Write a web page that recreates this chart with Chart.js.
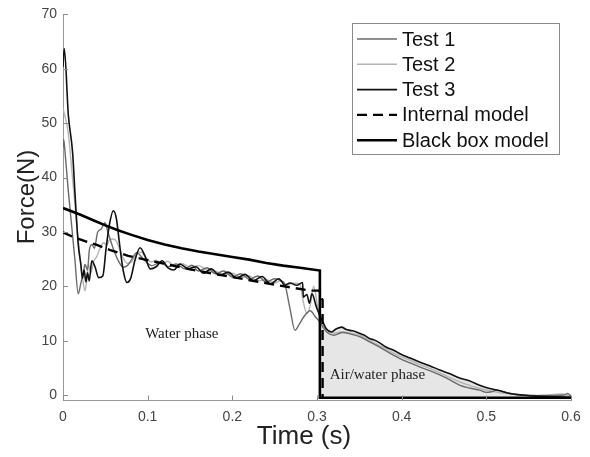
<!DOCTYPE html>
<html>
<head>
<meta charset="utf-8">
<script src="https://cdn.jsdelivr.net/npm/chart.js@4/dist/chart.umd.min.js"></script>
<style>
html, body { margin: 0; padding: 0; background: #fff; }
</style>
</head>
<body>
<canvas id="myChart" width="590" height="457"></canvas>
<script>
// axis ticks
const xTicks = [0, 0.1, 0.2, 0.3, 0.4, 0.5, 0.6];
const yTicks = [0, 10, 20, 30, 40, 50, 60, 70];

// Test 1 (dark grey)
const test1Time = [0, 0.0008, 0.0025, 0.006, 0.01, 0.014, 0.018, 0.021, 0.024, 0.026, 0.029, 0.031, 0.034, 0.037, 0.041, 0.045, 0.0496, 0.053, 0.059, 0.065, 0.071, 0.076, 0.081, 0.087, 0.095, 0.105, 0.115, 0.124, 0.134, 0.144, 0.152, 0.16, 0.17, 0.18, 0.19, 0.2, 0.21, 0.22, 0.23, 0.24, 0.25, 0.258, 0.262, 0.268, 0.274, 0.279, 0.284, 0.292, 0.2985, 0.303, 0.307, 0.312, 0.32, 0.33, 0.34, 0.351, 0.362, 0.374, 0.386, 0.398, 0.41, 0.421, 0.433, 0.445, 0.457, 0.469, 0.48, 0.492, 0.5, 0.506, 0.512, 0.525, 0.54, 0.57, 0.592, 0.596, 0.6];
const test1Force = [45.5, 47, 44.5, 38, 31.5, 25, 18.6, 20.5, 22.5, 24, 23, 26.5, 27.7, 27, 30, 30.5, 31.7, 30, 27.1, 24.8, 23.5, 23.8, 24.9, 26.2, 25, 23.8, 24.4, 23.6, 24.1, 23.2, 23.9, 22.8, 23.4, 22.3, 22.8, 21.7, 22.3, 21.3, 21.9, 20.8, 21.4, 21.0, 20.4, 16.0, 11.9, 13.0, 14.3, 15.5, 14.3, 13.5, 12.5, 11.5, 11.0, 11.5, 11.2, 10.7, 9.8, 8.8, 7.7, 6.7, 5.9, 5.2, 4.5, 3.7, 2.8, 1.8, 1.3, 0.9, 0.5, 0.6, 0.9, 0.4, 0.0, -0.1, 0.0, 0.3, -0.2];

// Test 2 (light grey)
const test2Time = [0, 0.002, 0.0063, 0.01, 0.015, 0.02, 0.024, 0.026, 0.028, 0.03, 0.033, 0.036, 0.04, 0.044, 0.048, 0.052, 0.055, 0.059, 0.063, 0.067, 0.071, 0.076, 0.081, 0.086, 0.092, 0.098, 0.104, 0.11, 0.117, 0.124, 0.132, 0.14, 0.15, 0.16, 0.17, 0.18, 0.19, 0.2, 0.21, 0.22, 0.23, 0.24, 0.25, 0.256, 0.265, 0.272, 0.28, 0.284, 0.288, 0.292, 0.296, 0.3, 0.304, 0.308, 0.313, 0.32, 0.33, 0.34, 0.351, 0.362, 0.374, 0.386, 0.398, 0.41, 0.42, 0.433, 0.445, 0.457, 0.469, 0.48, 0.49, 0.51, 0.53, 0.56, 0.59, 0.6];
const test2Force = [52.7, 51.5, 48.1, 42, 33.5, 25.5, 20.5, 19.2, 21, 24, 22.5, 24.5, 25.5, 27.1, 28, 27.6, 28.6, 28.7, 28.3, 26.8, 25.2, 24.2, 24.5, 25.8, 26.3, 25.3, 24.5, 24.8, 24.1, 24.6, 23.6, 24.2, 23.6, 23.8, 23, 22.8, 22.2, 22.4, 21.6, 21.9, 21, 21.2, 20.6, 21, 20.3, 20.6, 20.3, 17, 15, 16.5, 20, 17, 13.5, 12.6, 11.8, 11.4, 11.6, 11.4, 11, 10, 9.1, 8.1, 7.1, 6.4, 5.7, 4.9, 4.1, 3.2, 2.4, 1.8, 1.3, 0.6, 0.2, -0.1, 0.2, -0.3];

// Test 3 (black)
const test3Time = [0, 0.0015, 0.0063, 0.0114, 0.014, 0.018, 0.021, 0.023, 0.025, 0.027, 0.029, 0.031, 0.034, 0.038, 0.042, 0.047, 0.051, 0.055, 0.0594, 0.063, 0.067, 0.071, 0.0755, 0.08, 0.085, 0.091, 0.097, 0.103, 0.11, 0.117, 0.124, 0.131, 0.138, 0.148, 0.157, 0.166, 0.175, 0.185, 0.195, 0.205, 0.215, 0.225, 0.235, 0.245, 0.255, 0.262, 0.268, 0.276, 0.283, 0.2838, 0.288, 0.291, 0.294, 0.2995, 0.3034, 0.307, 0.311, 0.317, 0.323, 0.329, 0.334, 0.339, 0.345, 0.351, 0.356, 0.362, 0.368, 0.374, 0.382, 0.39, 0.398, 0.41, 0.421, 0.433, 0.445, 0.457, 0.469, 0.4805, 0.492, 0.504, 0.516, 0.528, 0.543, 0.559, 0.58, 0.599];
const test3Force = [60.3, 63.7, 51.5, 44.5, 37.5, 27.7, 24.1, 21.5, 23.0, 20.8, 22.5, 21.0, 24.7, 23.5, 21.6, 21.9, 27.1, 31.5, 33.9, 32.5, 27.5, 23.0, 20.7, 21.5, 24.8, 27.1, 25.5, 23.2, 23.6, 24.7, 23.4, 23.0, 24.1, 23.2, 23.6, 22.4, 23.2, 22.0, 22.6, 21.5, 22.2, 21.0, 21.8, 20.4, 21.4, 20.2, 20.6, 20.2, 20.7, 18.0, 18.5, 16.9, 18.6, 16.1, 14.6, 13.4, 12.2, 11.6, 12.2, 12.5, 12.1, 11.9, 11.7, 11.3, 11.0, 10.4, 10.1, 9.6, 8.8, 8.3, 7.6, 6.8, 6.1, 5.4, 4.6, 3.9, 3.1, 2.6, 1.8, 1.2, 0.8, 0.3, 0.0, -0.2, -0.3, -0.4];

// Internal model (dashed)
const internalTime = [0, 0.013, 0.026, 0.04, 0.055, 0.077, 0.103, 0.13, 0.15, 0.2, 0.25, 0.292, 0.303, 0.3055, 0.3066, 0.3066];
const internalForce = [29.9, 29.0, 28.3, 27.6, 26.7, 25.6, 24.7, 23.8, 23.1, 21.7, 20.3, 19.2, 19.2, 17.7, 17.5, -0.5];

// Black box model
const blackBoxTime = [0, 0.01, 0.02, 0.035, 0.05, 0.065, 0.08, 0.1, 0.12, 0.14, 0.16, 0.18, 0.2, 0.22, 0.24, 0.26, 0.28, 0.3034, 0.3034, 0.6];
const blackBoxForce = [34.4, 33.8, 33.2, 32.2, 31.2, 30.3, 29.5, 28.5, 27.7, 27.0, 26.4, 25.9, 25.4, 24.9, 24.3, 23.8, 23.4, 22.9, -0.5, -0.5];

// air/water phase shading starts where the black box model drops
const airWaterStart = 0.3034;
const shadeFloor = -0.5;

function pts(ts, fs) {
	return ts.map((t, i) => ({ x: t, y: fs[i] }));
}

const shadePts = pts(test3Time, test3Force).filter(p => p.x >= airWaterStart);

const lineBase = { pointRadius: 0, fill: false, tension: 0, borderJoinStyle: 'round' };
const smooth = { cubicInterpolationMode: 'monotone' };

const datasets = [
	Object.assign({}, lineBase, { label: 'Black box model', data: pts(blackBoxTime, blackBoxForce), borderColor: '#000', borderWidth: 2.6, borderJoinStyle: 'miter' }),
	Object.assign({}, lineBase, { label: 'Internal model', data: pts(internalTime, internalForce), borderColor: '#000', borderWidth: 2.4, borderDash: [10, 6] }),
	Object.assign({}, lineBase, smooth, { label: 'Test 3', data: pts(test3Time, test3Force), borderColor: '#111', borderWidth: 1.6 }),
	Object.assign({}, lineBase, smooth, { label: 'Test 1', data: pts(test1Time, test1Force), borderColor: '#6a6a6a', borderWidth: 1.4 }),
	Object.assign({}, lineBase, smooth, { label: 'Test 2', data: pts(test2Time, test2Force), borderColor: '#b4b4b4', borderWidth: 1.4 }),
	Object.assign({}, lineBase, smooth, { label: '', data: shadePts, borderWidth: 0, borderColor: 'rgba(0,0,0,0)', backgroundColor: '#e6e6e6', fill: { value: shadeFloor } })
];

const legendOrder = ['Test 1', 'Test 2', 'Test 3', 'Internal model', 'Black box model'];

const decor = {
	id: 'decor',
	afterDraw(chart) {
		const ctx = chart.ctx;
		const a = chart.chartArea;
		const xs = chart.scales.x;
		const ys = chart.scales.y;
		ctx.save();

		// inward tick marks
		ctx.strokeStyle = '#8c8c8c';
		ctx.lineWidth = 1;
		yTicks.forEach(v => {
			const py = Math.round(ys.getPixelForValue(v)) + 0.5;
			ctx.beginPath(); ctx.moveTo(a.left, py); ctx.lineTo(a.left + 5, py); ctx.stroke();
		});
		xTicks.forEach(v => {
			const px = Math.round(xs.getPixelForValue(v)) + 0.5;
			ctx.beginPath(); ctx.moveTo(px, a.bottom); ctx.lineTo(px, a.bottom - 5); ctx.stroke();
		});

		// phase labels
		ctx.fillStyle = '#222';
		ctx.font = '15px "Liberation Serif", "Times New Roman", serif';
		ctx.textBaseline = 'middle';
		ctx.textAlign = 'left';
		ctx.fillText('Water phase', xs.getPixelForValue(0.097), ys.getPixelForValue(11.3));
		ctx.fillText('Air/water phase', xs.getPixelForValue(0.315), ys.getPixelForValue(3.7));

		// axis titles
		ctx.fillStyle = '#222';
		ctx.font = '26px "Liberation Sans", Arial, sans-serif';
		ctx.textAlign = 'center';
		ctx.fillText('Time (s)', 304, 437);
		ctx.save();
		ctx.translate(27, 197);
		ctx.rotate(-Math.PI / 2);
		ctx.font = '24px "Liberation Sans", Arial, sans-serif';
		ctx.fillText('Force(N)', 0, 0);
		ctx.restore();

		// legend box
		const bx = 352, by = 23, bw = 207, bh = 131;
		ctx.fillStyle = '#fff';
		ctx.fillRect(bx, by, bw, bh);
		ctx.strokeStyle = '#8a8a8a';
		ctx.lineWidth = 1;
		ctx.strokeRect(bx + 0.5, by + 0.5, bw, bh);
		ctx.font = '20px "Liberation Sans", Arial, sans-serif';
		ctx.textAlign = 'left';
		legendOrder.forEach((name, i) => {
			const ds = chart.data.datasets.find(d => d.label === name);
			const cy = 39 + i * 25.3;
			ctx.strokeStyle = ds.borderColor;
			ctx.lineWidth = ds.borderWidth;
			ctx.setLineDash(ds.borderDash || []);
			ctx.beginPath(); ctx.moveTo(357, cy); ctx.lineTo(397, cy); ctx.stroke();
			ctx.setLineDash([]);
			ctx.fillStyle = '#111';
			ctx.fillText(name, 402, cy + 1);
		});
		ctx.restore();
	}
};

const tickFont = { family: '"Liberation Sans", Arial, sans-serif', size: 14 };

new Chart(document.getElementById('myChart'), {
	type: 'line',
	data: { datasets },
	options: {
		responsive: false,
		animation: false,
		layout: { padding: { left: 0, right: 19, top: 12, bottom: 0 } },
		plugins: { legend: { display: false }, tooltip: { enabled: false } },
		scales: {
			x: {
				type: 'linear', min: 0, max: 0.6,
				afterFit: s => { s.height = 56.5; },
				afterBuildTicks: s => { s.ticks = xTicks.map(v => ({ value: v })); },
				grid: { drawOnChartArea: false, drawTicks: false },
				border: { color: '#999', width: 1 },
				ticks: { color: '#444', font: tickFont, padding: 8, maxRotation: 0, callback: v => String(+v.toFixed(1)) }
			},
			y: {
				type: 'linear', min: -1, max: 70,
				afterFit: s => { s.width = 63; },
				afterBuildTicks: s => { s.ticks = yTicks.map(v => ({ value: v })); },
				grid: { drawOnChartArea: false, drawTicks: false },
				border: { color: '#999', width: 1 },
				ticks: { color: '#444', font: tickFont, padding: 6 }
			}
		}
	},
	plugins: [decor]
});
</script>
</body>
</html>
